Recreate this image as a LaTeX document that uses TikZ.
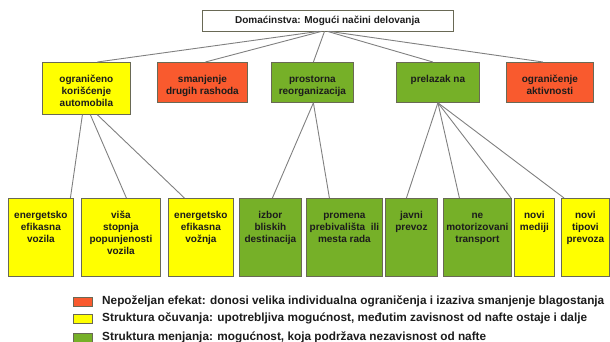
\documentclass[tikz,border=0pt]{standalone}
\usepackage{fontspec}
\setmainfont{Liberation Sans}
\definecolor{cyel}{RGB}{255,255,0}
\definecolor{cred}{RGB}{249,90,46}
\definecolor{cgrn}{RGB}{118,176,40}
\definecolor{cbor}{RGB}{105,105,85}
\definecolor{cline}{RGB}{128,128,128}
\definecolor{ctxt}{RGB}{28,28,28}
\tikzset{
  bx/.style={draw=cbor, line width=0.8pt, inner sep=0pt, anchor=north west,
    font=\bfseries\fontsize{10}{12}\selectfont, text=ctxt},
  conn/.style={draw=cline, line width=0.9pt},
  legsq/.style={draw=cbor, line width=0.7pt, inner sep=0pt, anchor=north west},
  legtxt/.style={anchor=west, inner sep=0pt, text=ctxt,
    font=\bfseries\fontsize{11.8}{14}\selectfont},
}
\newcommand{\mybx}[7]{%
  \node[bx, fill=#2] (#1) at (#3,#4)
    {\parbox[t][\dimexpr#6pt-#4pt\relax][t]{\dimexpr#5pt-#3pt\relax}{\centering\vspace*{11.5pt}\strut #7}};}
\begin{document}
\begin{tikzpicture}[x=1pt,y=-1pt]
\useasboundingbox (0,0) rectangle (610,342);
% top
\node[bx, fill=white, anchor=center, minimum width=251pt, minimum height=21pt]
  (top) at (327.5,20.5) {Domaćinstva: Mogući načini delovanja};
% level 2
\mybx{a}{cyel}{42}{62}{130}{114}{ograničeno\\korišćenje\\automobila}
\mybx{b}{cred}{157}{62}{247}{102}{smanjenje\\drugih rashoda}
\mybx{c}{cgrn}{271}{62}{353}{102}{prostorna\\reorganizacija}
\mybx{d}{cgrn}{396}{62}{479}{102}{prelazak na}
\mybx{e}{cred}{506}{62}{593}{102}{ograničenje\\aktivnosti}
% level 3
\mybx{l1}{cyel}{8}{198}{73}{276}{energetsko\\efikasna\\vozila}
\mybx{l2}{cyel}{81}{198}{160}{276}{viša\\stopnja\\popunjenosti\\vozila}
\mybx{l3}{cyel}{168}{198}{233}{276}{energetsko\\efikasna\\vožnja}
\mybx{l4}{cgrn}{239}{198}{301}{276}{izbor\\bliskih\\destinacija}
\mybx{l5}{cgrn}{306}{198}{382}{276}{promena\\prebivališta~~ili\\mesta rada}
\mybx{l6}{cgrn}{385}{198}{437}{276}{javni\\prevoz}
\mybx{l7}{cgrn}{443}{198}{511}{276}{ne\\motorizovani\\transport}
\mybx{l8}{cyel}{514}{198}{554}{276}{novi\\mediji}
\mybx{l9}{cyel}{561}{198}{609}{276}{novi\\tipovi\\prevoza}
% connectors top -> level 2
\draw[conn] ([xshift=-9pt]top.south) -- ([xshift=11pt]a.north);
\draw[conn] ([xshift=-6pt]top.south) -- ([xshift=3pt]b.north);
\draw[conn] ([xshift=-3pt]top.south) -- ([xshift=1pt]c.north);
\draw[conn] ([xshift=0pt]top.south) -- ([xshift=-5pt]d.north);
\draw[conn] ([xshift=2pt]top.south) -- ([xshift=-7pt]e.north);
% level 2 -> level 3
\draw[conn] ([xshift=-4pt]a.south) -- ([xshift=29.5pt]l1.north);
\draw[conn] ([xshift=4pt]a.south) -- ([xshift=5.5pt]l2.north);
\draw[conn] ([xshift=11pt]a.south) -- ([xshift=-16.5pt]l3.north);
\draw[conn] ([xshift=1pt]c.south) -- ([xshift=2pt]l4.north);
\draw[conn] ([xshift=1pt]c.south) -- ([xshift=-15pt]l5.north);
\draw[conn] (d.south) -- ([xshift=-5pt]l6.north);
\draw[conn] (d.south) -- ([xshift=-18pt]l7.north);
\draw[conn] (d.south) -- ([xshift=-3pt]l8.north west);
\draw[conn] (d.south) -- ([xshift=3pt]l9.north west);
% legend
\node[legsq, fill=cred, minimum width=19pt, minimum height=9pt] (s1) at (73,297) {};
\node[legsq, fill=cyel, minimum width=19pt, minimum height=9pt] (s2) at (73,314) {};
\node[legsq, fill=cgrn, minimum width=19pt, minimum height=9pt] (s3) at (73,333) {};
\node[legtxt] (t1) at (102,301.5) {Nepoželjan efekat: donosi velika individualna ograničenja i izaziva smanjenje blagostanja};
\node[legtxt] (t2) at (102,318.5) {Struktura očuvanja: upotrebljiva mogućnost, međutim zavisnost od nafte ostaje i dalje};
\node[legtxt] (t3) at (102,337) {Struktura menjanja: mogućnost, koja podržava nezavisnost od nafte};
\end{tikzpicture}
\end{document}
